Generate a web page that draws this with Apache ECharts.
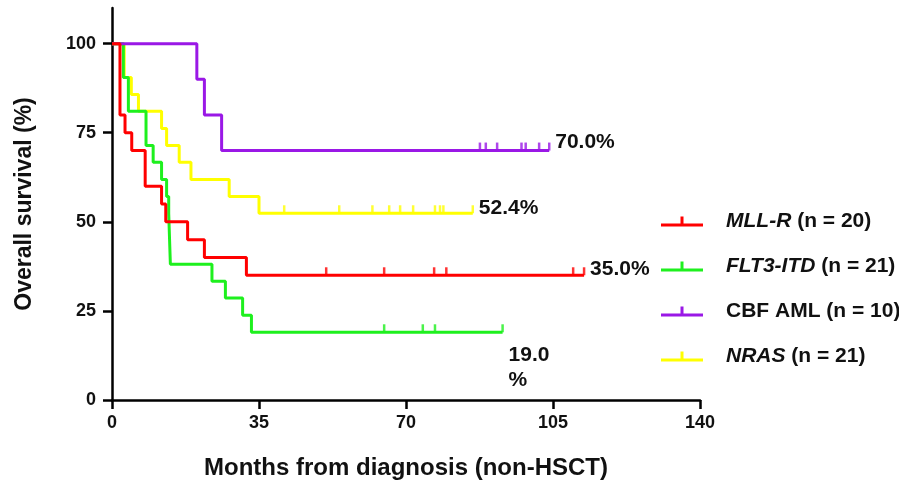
<!DOCTYPE html>
<html>
<head>
<meta charset="utf-8">
<script src="https://cdn.jsdelivr.net/npm/echarts@6/dist/echarts.min.js"></script>
<style>html,body{margin:0;padding:0;background:#fff;}#c{width:899px;height:485px;}</style>
</head>
<body>
<div id="c"></div>
<script>
// ---- data (months, survival %) ----
const xTicks = [0, 35, 70, 105, 140];
const yTicks = [0, 25, 50, 75, 100];

const mllT = [0, 1.9, 3.1, 4.7, 7.9, 11.8, 12.8, 18.0, 22.0, 32.0, 112.4];
const mllS = [100, 80, 75, 70, 60, 55, 50, 45, 40, 35, 35];
const mllCens = [51.0, 64.8, 76.7, 79.6, 109.8, 112.4];

const fltT = [0, 2.7, 3.9, 8.1, 9.8, 11.8, 13.0, 13.5, 13.9, 23.8, 27.0, 31.1, 33.2, 93.0];
const fltS = [100, 90.5, 81.0, 71.4, 66.7, 61.9, 57.1, 52.4, 38.1, 33.3, 28.6, 23.8, 19.0, 19.0];
const fltCens = [64.8, 74.0, 76.9, 93.0];

const cbfT = [0, 20.2, 22.0, 26.1, 104.1];
const cbfS = [100, 90, 80, 70, 70];
const cbfCens = [87.6, 89.0, 91.7, 97.5, 98.5, 101.7, 104.1];

const nrasT = [0, 2.9, 4.6, 6.3, 11.8, 13.0, 16.0, 18.8, 27.9, 35.0, 85.9];
const nrasS = [100, 90.5, 85.7, 81.0, 76.2, 71.4, 66.7, 61.9, 57.1, 52.4, 52.4];
const nrasCens = [41.0, 54.1, 62.0, 66.0, 68.6, 71.7, 76.9, 78.1, 78.9, 85.9];

const names = ['MLL-R', 'FLT3-ITD', 'CBF AML', 'NRAS'];
const legendText = {
  'MLL-R': '{i|MLL-R} {n|(n = 20)}',
  'FLT3-ITD': '{i|FLT3-ITD} {n|(n = 21)}',
  'CBF AML': '{n|CBF AML (n = 10)}',
  'NRAS': '{i|NRAS} {n|(n = 21)}'
};
const endText = ['35.0%', '19.0\n%', '70.0%', '52.4%'];

// ---- build ----
const FONT = '"Liberation Sans", Arial, sans-serif';
function pairs(T, S) { return T.map((t, i) => [t, S[i]]); }
function survAt(T, S, t) { let v = S[0]; for (let i = 0; i < T.length; i++) { if (T[i] <= t) v = S[i]; } return v; }
function cens(T, S, C) { return C.map(t => [t, survAt(T, S, t)]); }

const groups = [
  { name: names[0], T: mllT, S: mllS, C: mllCens, color: '#ff0000', z: 8, off: [0, -6] },
  { name: names[1], T: fltT, S: fltS, C: fltCens, color: '#1ef01e', z: 6, off: [0, 35] },
  { name: names[2], T: cbfT, S: cbfS, C: cbfCens, color: '#9a18e6', z: 7, off: [0, -8] },
  { name: names[3], T: nrasT, S: nrasS, C: nrasCens, color: '#ffff00', z: 5, off: [0, -5] }
];

const series = [];
groups.forEach((g, k) => {
  series.push({
    name: g.name, type: 'line', step: 'end', data: pairs(g.T, g.S),
    showSymbol: false, symbol: 'none', z: g.z,
    lineStyle: { color: g.color, width: 3 }, itemStyle: { color: g.color },
    emphasis: { disabled: true }, animation: false,
    endLabel: {
      show: true, formatter: endText[k], color: '#111', fontFamily: FONT,
      fontWeight: 'bold', fontSize: 21, lineHeight: 25, distance: 6, offset: g.off, align: 'left'
    }
  });
  series.push({
    name: g.name, type: 'scatter', data: cens(g.T, g.S, g.C), z: g.z,
    symbol: 'rect', symbolSize: [2.5, 8], symbolOffset: [0, -4],
    itemStyle: { color: g.color }, emphasis: { disabled: true }, animation: false, silent: true
  });
});

const chart = echarts.init(document.getElementById('c'), null, { renderer: 'canvas' });
chart.setOption({
  animation: false,
  backgroundColor: '#ffffff',
  grid: { left: 112, right: 199, top: 8, bottom: 85, containLabel: false },
  legend: {
    data: names,
    orient: 'vertical', left: 656, top: 206, itemGap: 24,
    itemWidth: 42, itemHeight: 10,
    icon: 'path://M0,7h42v3H0z M19.5,0h3v7h-3z',
    formatter: n => legendText[n],
    textStyle: {
      color: '#111', fontFamily: FONT, fontSize: 21, fontWeight: 'bold', padding: [0, 0, 0, 18],
      rich: {
        i: { fontStyle: 'italic', fontWeight: 'bold', fontSize: 21, fontFamily: FONT, color: '#111' },
        n: { fontWeight: 'bold', fontSize: 21, fontFamily: FONT, color: '#111' }
      }
    },
    selectedMode: false
  },
  xAxis: {
    type: 'value', min: 0, max: 140, interval: 35,
    name: 'Months from diagnosis (non-HSCT)', nameLocation: 'middle', nameGap: 56,
    nameTextStyle: { color: '#111', fontFamily: FONT, fontSize: 24, fontWeight: 'bold' },
    axisLine: { show: true, lineStyle: { color: '#000', width: 2.5 } },
    axisTick: { show: true, length: 9, lineStyle: { color: '#000', width: 2.5 } },
    axisLabel: { margin: 14, color: '#111', fontFamily: FONT, fontSize: 18, fontWeight: 'bold',
                 customValues: xTicks },
    splitLine: { show: false }
  },
  yAxis: {
    type: 'value', min: 0, max: 110, interval: 25,
    name: 'Overall survival (%)', nameLocation: 'middle', nameGap: 76,
    nameTextStyle: { color: '#111', fontFamily: FONT, fontSize: 23, fontWeight: 'bold' },
    axisLine: { show: true, lineStyle: { color: '#000', width: 2.5 } },
    axisTick: { show: true, length: 9, lineStyle: { color: '#000', width: 2.5 }, customValues: yTicks },
    axisLabel: { margin: 16, color: '#111', fontFamily: FONT, fontSize: 18, fontWeight: 'bold',
                 customValues: yTicks },
    splitLine: { show: false }
  },
  series: series
});
</script>
</body>
</html>
